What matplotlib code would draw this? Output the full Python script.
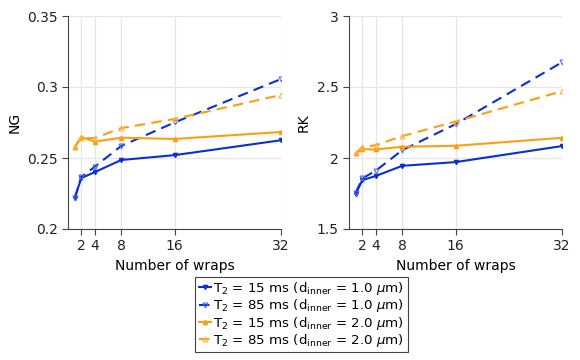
import matplotlib
matplotlib.use("Agg")
import matplotlib.pyplot as plt

wraps = [1, 2, 4, 8, 16, 32]

ng_15_d1 = [0.2218, 0.2359, 0.2400, 0.2486, 0.2520, 0.2625]
ng_85_d1 = [0.2215, 0.2366, 0.2438, 0.2585, 0.2750, 0.3056]
ng_15_d2 = [0.2578, 0.2648, 0.2615, 0.2643, 0.2634, 0.2683]
ng_85_d2 = [0.2578, 0.2640, 0.2640, 0.2710, 0.2775, 0.2944]

rk_15_d1 = [1.746, 1.844, 1.873, 1.945, 1.971, 2.084]
rk_85_d1 = [1.755, 1.856, 1.910, 2.055, 2.238, 2.674]
rk_15_d2 = [2.032, 2.062, 2.060, 2.079, 2.086, 2.142]
rk_85_d2 = [2.032, 2.077, 2.090, 2.154, 2.257, 2.470]

labels = [
    r"T$_2$ = 15 ms (d$_{\rm inner}$ = 1.0 $\mu$m)",
    r"T$_2$ = 85 ms (d$_{\rm inner}$ = 1.0 $\mu$m)",
    r"T$_2$ = 15 ms (d$_{\rm inner}$ = 2.0 $\mu$m)",
    r"T$_2$ = 85 ms (d$_{\rm inner}$ = 2.0 $\mu$m)",
]

blue = "#0a2fd0"
blue_light = "#4a6cf0"
orange = "#ff9c0f"
orange_light = "#ffb347"

plt.rcParams["font.family"] = "DejaVu Sans"
plt.rcParams["font.size"] = 10

fig = plt.figure(figsize=(5.8, 3.6), dpi=100)
ax1 = fig.add_axes([68 / 580, 1 - 229 / 360, 213 / 580, 213 / 360])
ax2 = fig.add_axes([349 / 580, 1 - 229 / 360, 213 / 580, 213 / 360])


def draw(ax, s1, s2, s3, s4):
    h = []
    h += ax.plot(wraps, s1, color=blue, lw=1.5, marker="v", ms=3, label=labels[0])
    h += ax.plot(wraps, s2, color=blue, lw=1.5, ls=(0, (5, 3)), marker="v", ms=3.5,
                 mfc="none", mec=blue_light, mew=0.8, label=labels[1])
    h += ax.plot(wraps, s3, color=orange, lw=1.5, marker="^", ms=3, label=labels[2])
    h += ax.plot(wraps, s4, color=orange, lw=1.5, ls=(0, (5, 3)), marker="^", ms=3.5,
                 mfc="none", mec=orange_light, mew=0.8, label=labels[3])
    ax.set_xlim(0, 32)
    ax.set_xticks([2, 4, 8, 16, 32])
    ax.set_xlabel("Number of wraps")
    ax.grid(True, color="#e6e6e6", lw=0.9)
    ax.set_axisbelow(True)
    for side in ["top", "right"]:
        ax.spines[side].set_visible(False)
    for side in ["left", "bottom"]:
        ax.spines[side].set_color("#444444")
    ax.tick_params(direction="out", length=4, color="#444444", labelcolor="#222222")
    return h


handles = draw(ax1, ng_15_d1, ng_85_d1, ng_15_d2, ng_85_d2)
ax1.set_ylim(0.2, 0.35)
ax1.set_yticks([0.2, 0.25, 0.3, 0.35])
ax1.set_yticklabels(["0.2", "0.25", "0.3", "0.35"])
ax1.set_ylabel("NG")

draw(ax2, rk_15_d1, rk_85_d1, rk_15_d2, rk_85_d2)
ax2.set_ylim(1.5, 3)
ax2.set_yticks([1.5, 2, 2.5, 3])
ax2.set_yticklabels(["1.5", "2", "2.5", "3"])
ax2.set_ylabel("RK")

leg = fig.legend(handles, labels, loc="lower center", bbox_to_anchor=(0.52, 0.003),
                 fontsize=9.6, handlelength=0.9, handletextpad=0.2,
                 borderpad=0.25, labelspacing=0.02, fancybox=False,
                 edgecolor="#444444", framealpha=1)
leg.get_frame().set_linewidth(0.8)

fig.savefig("out.png", dpi=100)
